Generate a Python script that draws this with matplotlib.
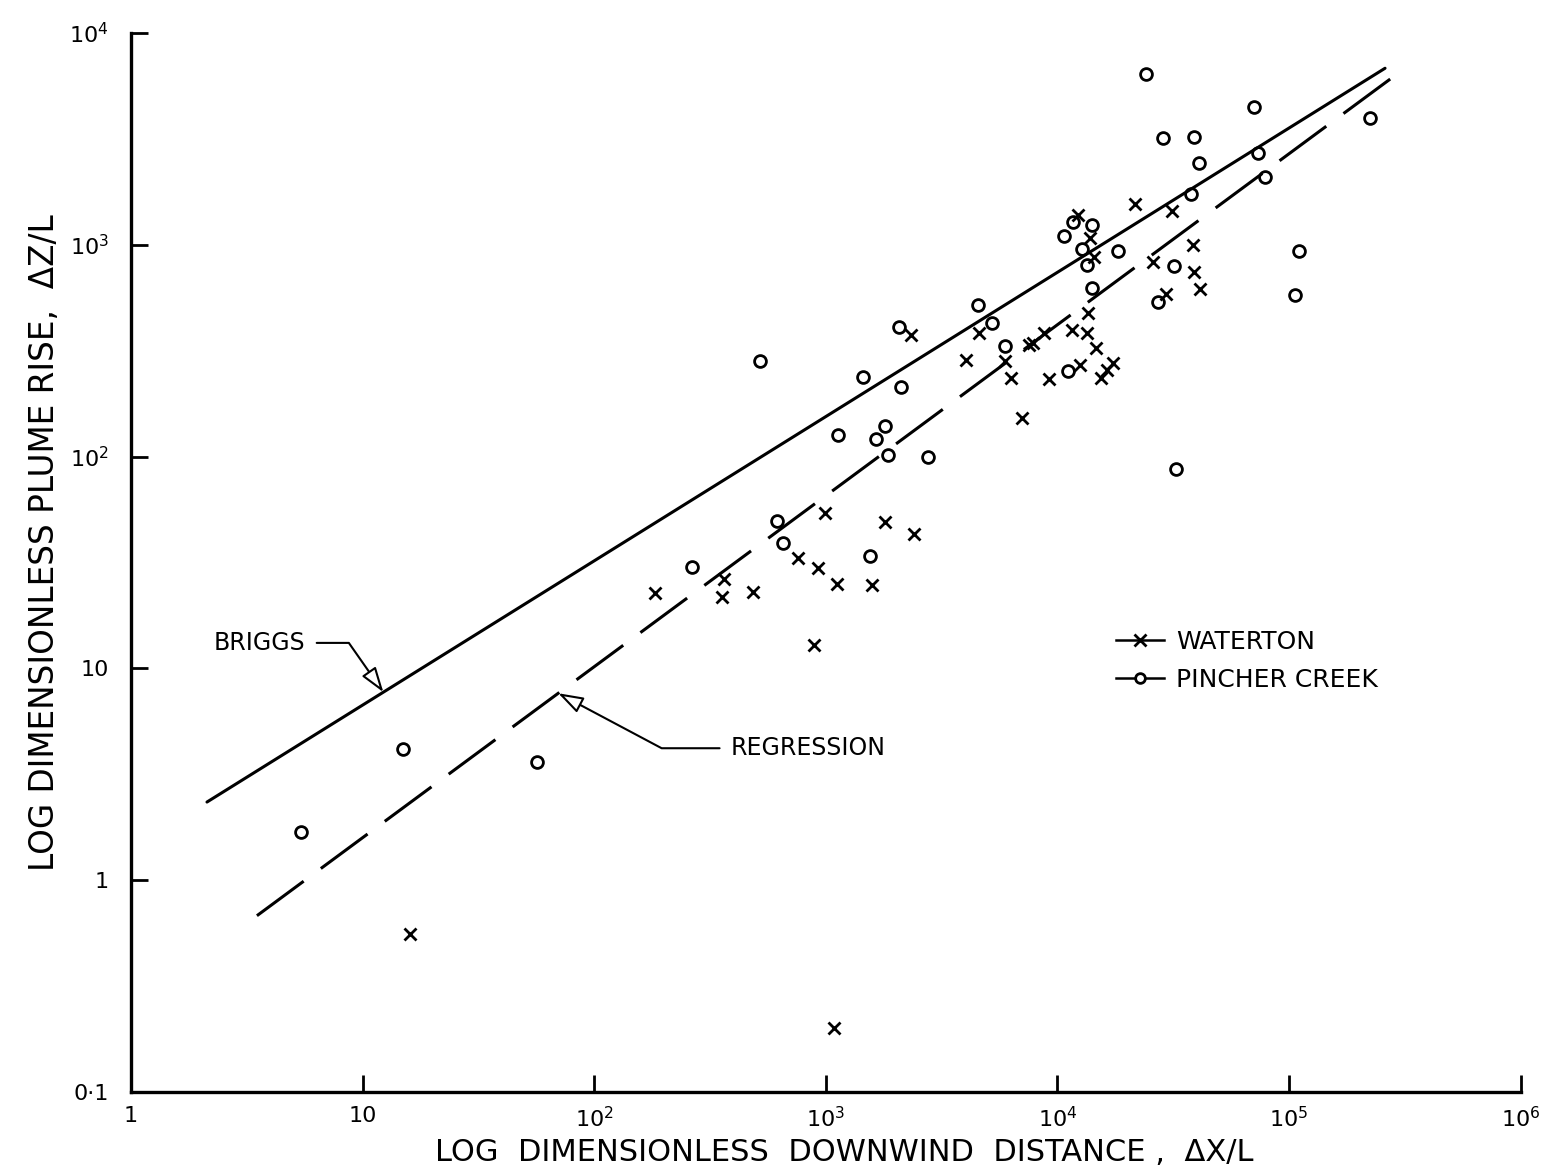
import numpy as np
import matplotlib.pyplot as plt
from matplotlib.lines import Line2D

plt.rcParams['font.family'] = 'DejaVu Sans'
plt.rcParams['mathtext.fontset'] = 'dejavusans'

# Waterton observations (dimensionless downwind distance, plume rise)
waterton_x = [16.1, 1090, 183, 356, 364, 485, 760, 891, 927, 994, 1120, 1590,
              1810, 2410, 2340, 4050, 4610, 5970, 6280, 7070, 7510, 7890, 8720,
              9250, 11520, 12470, 13380, 13510, 14630, 15380, 16320, 17330,
              12230, 13780, 14340, 21570, 31180, 25810, 38430, 38820, 41220, 29380]
waterton_z = [0.556, 0.200, 22.6, 21.7, 26.4, 22.9, 33.1, 12.9, 29.7, 54.1, 25.0, 24.7,
              49.0, 43.0, 374, 285, 382, 282, 235, 153, 336, 343, 382,
              232, 395, 270, 382, 475, 325, 235, 256, 276,
              1380, 1075, 874, 1555, 1441, 828, 996, 742, 617, 585]

# Pincher Creek observations
pincher_x = [5.44, 14.9, 56.5, 264, 520, 617, 654, 1131, 1451, 1556, 1652, 1807,
             1862, 2077, 2119, 2773, 4562, 5245, 5970, 10640, 11630, 14060, 12730,
             13380, 18210, 14060, 11070, 27130, 31810, 32450, 24070, 70570, 224000,
             28510, 38820, 40800, 73430, 37680, 78750, 110500, 106200]
pincher_z = [1.69, 4.15, 3.61, 30.0, 282, 49.5, 39.0, 126, 237, 33.9, 121, 139,
             101.5, 408, 213, 99.4, 519, 426, 332, 1098, 1278, 1237, 953,
             801, 933, 624, 253, 536, 792, 87.2, 6390, 4464, 3960,
             3187, 3221, 2428, 2707, 1734, 2085, 933, 578]

# Briggs 2/3 law and the regression fit, given by their end points
briggs_x = [2.13, 2.6e5]
briggs_z = [2.34, 6820]
regress_x = [3.5, 2.96e5]
regress_z = [0.68, 6460]

x_ticks = [1, 10, 1e2, 1e3, 1e4, 1e5, 1e6]
x_ticklabels = ['1', '10', '$10^2$', '$10^3$', '$10^4$', '$10^5$', '$10^6$']
y_ticks = [0.1, 1, 10, 1e2, 1e3, 1e4]
y_ticklabels = ['0·1', '1', '10', '$10^2$', '$10^3$', '$10^4$']


def on_line(xs, zs, x):
    # point on a straight line in log-log space
    return 10 ** np.interp(np.log10(x), np.log10(xs), np.log10(zs))


fig = plt.figure(figsize=(15.44, 11.76), dpi=100)
ax = fig.add_axes([0.0848, 0.0714, 0.90, 0.9005])

ax.plot(briggs_x, briggs_z, color='black', lw=2.2, solid_capstyle='round')
ax.plot(regress_x, regress_z, color='black', lw=2.2, dashes=(19, 7))

ax.plot(waterton_x, waterton_z, ls='none', marker='x', ms=8, mew=2, color='black')
ax.plot(pincher_x, pincher_z, ls='none', marker='o', ms=8.5, mew=2,
        mfc='none', mec='black')

ax.set_xscale('log')
ax.set_yscale('log')
ax.set_xlim(1, 1e6)
ax.set_ylim(0.1, 1e4)
ax.set_xticks(x_ticks)
ax.set_xticklabels(x_ticklabels)
ax.set_yticks(y_ticks)
ax.set_yticklabels(y_ticklabels)
ax.minorticks_off()
ax.tick_params(direction='in', length=12, width=2, labelsize=16)
ax.tick_params(axis='x', pad=10)
ax.tick_params(axis='y', pad=16)

for side in ['top', 'right']:
    ax.spines[side].set_visible(False)
for side in ['left', 'bottom']:
    ax.spines[side].set_linewidth(2.4)

ax.set_xlabel('LOG  DIMENSIONLESS  DOWNWIND  DISTANCE ,  ΔX/L', fontsize=22)
ax.set_ylabel('LOG DIMENSIONLESS PLUME RISE,  ΔZ/L', fontsize=23.5)
ax.xaxis.set_label_coords(0.513, -0.0435)
ax.yaxis.set_label_coords(-0.050, 0.519)

arrow = dict(arrowstyle='-|>,head_length=0.9,head_width=0.3', fc='white',
             ec='black', lw=1.5, shrinkA=6, shrinkB=0)

ax.annotate('BRIGGS', xy=(12.3, on_line(briggs_x, briggs_z, 12.3)),
            xytext=(3.6, 13.2), fontsize=17, ha='center', va='center',
            arrowprops=dict(arrow, connectionstyle='angle,angleA=0,angleB=125,rad=0'))
ax.annotate('REGRESSION', xy=(70, on_line(regress_x, regress_z, 70)),
            xytext=(840, 4.2), fontsize=17, ha='center', va='center',
            arrowprops=dict(arrow, connectionstyle='angle,angleA=0,angleB=-28,rad=0'))

handles = [Line2D([], [], color='black', lw=1.8, marker='x', ms=8, mew=2),
           Line2D([], [], color='black', lw=1.8, marker='o', mfc='white', ms=7, mew=2)]
ax.legend(handles, ['WATERTON', 'PINCHER CREEK'], loc='upper left',
          bbox_to_anchor=(0.70, 0.448), frameon=False, fontsize=18,
          handlelength=1.9, handletextpad=0.5, labelspacing=0.55, borderpad=0)

fig.savefig('out.png', dpi=100)
